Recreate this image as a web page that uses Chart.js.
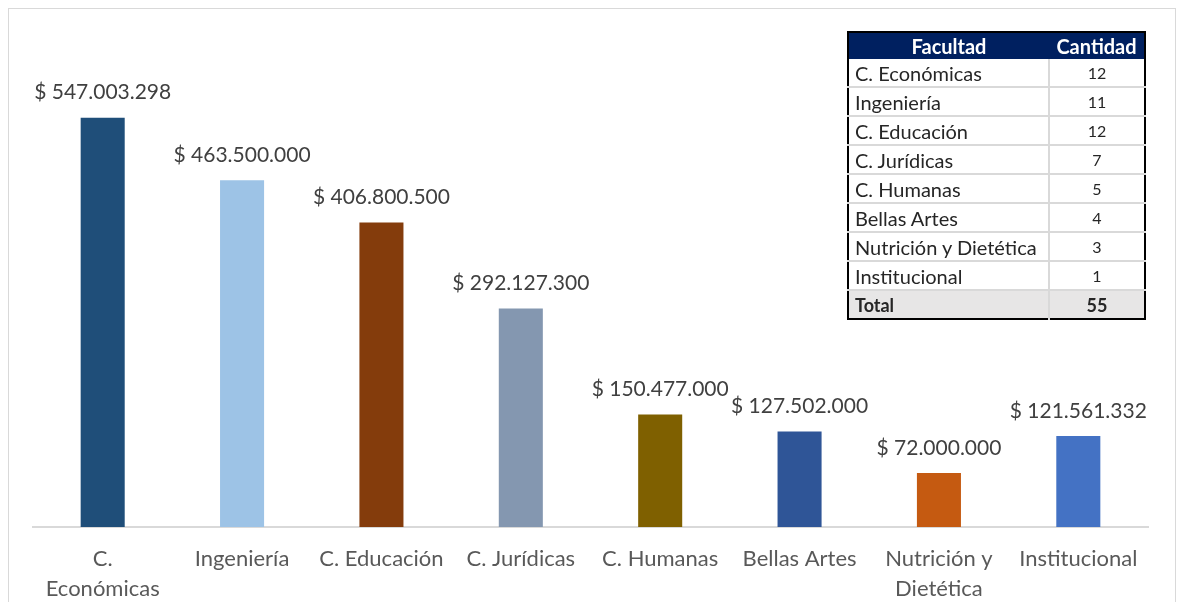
<!DOCTYPE html>
<html>
<head>
<meta charset="utf-8">
<script src="https://cdn.jsdelivr.net/npm/chart.js@4.4.1/dist/chart.umd.min.js"></script>
<style>
    body { margin: 0; background: #fff; font-family: Lato, sans-serif; }
    #marco { position: absolute; left: 8px; top: 8px; width: 1166px; height: 640px; border: 1px solid #d9d9d9; }
    #grafico { position: absolute; left: 0; top: 0; }
    #tabla { position: absolute; left: 847px; top: 31px; border-collapse: collapse; border: 2px solid #000; font-size: 20px; color: #262626; }
    #tabla th { background: #002060; color: #fff; font-weight: bold; height: 26px; padding: 0; font-size: 20px; }
    #tabla td { height: 27px; padding: 0 6px; border-bottom: 2px solid #d9d9d9; white-space: nowrap; }
    #tabla td.num { text-align: center; border-left: 2px solid #d9d9d9; font-size: 16px; }
    #tabla tr.total td { background: #e7e6e6; font-weight: bold; border-top: 2px solid #000; border-bottom: none; font-size: 18px; }
</style>
</head>
<body>
<div id="marco"></div>
<canvas id="grafico" width="1177" height="602"></canvas>
<table id="tabla">
    <thead><tr><th style="width:200px">Facultad</th><th style="width:95px">Cantidad</th></tr></thead>
    <tbody id="cuerpo"></tbody>
</table>
<script>
// datos
const facultades = [['C.', 'Económicas'], 'Ingeniería', 'C. Educación', 'C. Jurídicas', 'C. Humanas', 'Bellas Artes', ['Nutrición y', 'Dietética'], 'Institucional'];
const montos = [547003298, 463500000, 406800500, 292127300, 150477000, 127502000, 72000000, 121561332];
const colores = ['#1F4E79', '#9DC3E6', '#843C0C', '#8497B0', '#7F6000', '#2F5597', '#C55A11', '#4472C4'];

const tabla_facultades = ['C. Económicas', 'Ingeniería', 'C. Educación', 'C. Jurídicas', 'C. Humanas', 'Bellas Artes', 'Nutrición y Dietética', 'Institucional'];
const tabla_cantidad = [12, 11, 12, 7, 5, 4, 3, 1];

// tabla
const cuerpo = document.getElementById('cuerpo');
tabla_facultades.map((item, i) => {
    cuerpo.innerHTML += `<tr><td>${item}</td><td class="num">${tabla_cantidad[i]}</td></tr>`;
});
const total = tabla_cantidad.reduce((a, b) => a + b, 0);
cuerpo.innerHTML += `<tr class="total"><td>Total</td><td class="num">${total}</td></tr>`;

const formato = (v) => '$ ' + v.toString().replace(/\B(?=(\d{3})+(?!\d))/g, '.');

// etiquetas sobre las barras
const etiquetas = {
    id: 'etiquetas',
    afterDatasetsDraw(chart) {
        const ctx = chart.ctx;
        const meta = chart.getDatasetMeta(0);
        ctx.save();
        ctx.font = '21px Lato';
        ctx.fillStyle = '#404040';
        ctx.textAlign = 'center';
        ctx.textBaseline = 'middle';
        meta.data.map((bar, i) => {
            ctx.fillText(formato(montos[i]), bar.x, bar.y - 25);
        });
        ctx.restore();
    }
};

new Chart(document.getElementById('grafico'), {
    type: 'bar',
    data: {
        labels: facultades,
        datasets: [{
            data: montos,
            backgroundColor: colores,
            categoryPercentage: 1,
            barPercentage: 0.316
        }]
    },
    options: {
        responsive: false,
        animation: false,
        layout: { padding: { left: 33, right: 29, top: 78, bottom: 0 } },
        plugins: { legend: { display: false }, tooltip: { enabled: false } },
        scales: {
            x: {
                grid: { display: false },
                border: { display: true, color: '#d9d9d9', width: 2 },
                ticks: {
                    color: '#595959',
                    font: { family: 'Lato', size: 22, lineHeight: 1.36 },
                    padding: 9,
                    maxRotation: 0,
                    autoSkip: false
                },
                afterFit: (scale) => { scale.height = 75; }
            },
            y: {
                display: false,
                min: 0,
                max: 600000000
            }
        }
    },
    plugins: [etiquetas]
});
</script>
</body>
</html>
